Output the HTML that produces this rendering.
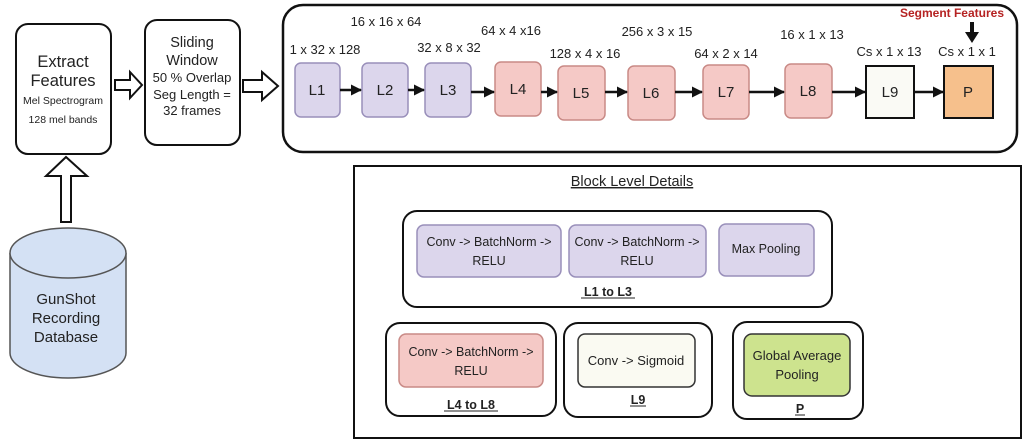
<!DOCTYPE html>
<html><head><meta charset="utf-8"><style>
html,body{margin:0;padding:0;background:#fff;}
svg{display:block;}
text{font-family:"Liberation Sans",Arial,sans-serif;fill:#222;}
</style></head><body>
<svg width="1027" height="448" viewBox="0 0 1027 448" xmlns="http://www.w3.org/2000/svg">
<defs>
<marker id="ah" markerWidth="11" markerHeight="11" refX="10" refY="5.5" orient="auto" markerUnits="userSpaceOnUse"><path d="M0,0 L11,5.5 L0,11 z" fill="#111"/></marker>
</defs>
<!-- Extract features -->
<rect x="16" y="24" width="95" height="130" rx="12" fill="#fff" stroke="#111" stroke-width="2"/>
<text x="63" y="67" font-size="16.5" text-anchor="middle">Extract</text>
<text x="63" y="86" font-size="16.5" text-anchor="middle">Features</text>
<text x="63" y="104" font-size="10.5" text-anchor="middle">Mel Spectrogram</text>
<text x="63" y="123" font-size="10.5" text-anchor="middle">128 mel bands</text>
<!-- Sliding window -->
<rect x="145" y="20" width="95" height="125" rx="12" fill="#fff" stroke="#111" stroke-width="2"/>
<text x="192" y="47" font-size="14.5" text-anchor="middle">Sliding</text>
<text x="192" y="65" font-size="14.5" text-anchor="middle">Window</text>
<text x="192" y="82" font-size="13" text-anchor="middle">50 % Overlap</text>
<text x="192" y="99" font-size="13" text-anchor="middle">Seg Length =</text>
<text x="192" y="115" font-size="13" text-anchor="middle">32 frames</text>
<!-- hollow arrows -->
<path d="M115,80 L130,80 L130,72 L142,85 L130,98 L130,90 L115,90 z" fill="#fff" stroke="#111" stroke-width="2"/>
<path d="M243,80 L262,80 L262,72 L278,86 L262,100 L262,92 L243,92 z" fill="#fff" stroke="#111" stroke-width="2"/>
<path d="M61,222 L61,176 L46,176 L66,157 L87,176 L71,176 L71,222 z" fill="#fff" stroke="#111" stroke-width="2"/>
<!-- cylinder -->
<path d="M10,253 L10,353 A58,25 0 0 0 126,353 L126,253" fill="#d4e1f4" stroke="#555" stroke-width="1.5"/>
<ellipse cx="68" cy="253" rx="58" ry="25" fill="#d4e1f4" stroke="#555" stroke-width="1.5"/>
<text x="66" y="304" font-size="15" text-anchor="middle">GunShot</text>
<text x="66" y="323" font-size="15" text-anchor="middle">Recording</text>
<text x="66" y="342" font-size="15" text-anchor="middle">Database</text>
<!-- main box -->
<rect x="283" y="5" width="734" height="147" rx="20" fill="#fff" stroke="#111" stroke-width="2.5"/>
<g stroke-width="1.5">
<rect x="295" y="63" width="45" height="54" rx="6" fill="#dcd6ec" stroke="#998fba"/>
<rect x="362" y="63" width="46" height="54" rx="6" fill="#dcd6ec" stroke="#998fba"/>
<rect x="425" y="63" width="46" height="54" rx="6" fill="#dcd6ec" stroke="#998fba"/>
<rect x="495" y="62" width="46" height="54" rx="6" fill="#f5c9c6" stroke="#c98a86"/>
<rect x="558" y="66" width="47" height="54" rx="6" fill="#f5c9c6" stroke="#c98a86"/>
<rect x="628" y="66" width="47" height="54" rx="6" fill="#f5c9c6" stroke="#c98a86"/>
<rect x="703" y="65" width="46" height="54" rx="6" fill="#f5c9c6" stroke="#c98a86"/>
<rect x="785" y="64" width="47" height="54" rx="6" fill="#f5c9c6" stroke="#c98a86"/>
<rect x="866" y="66" width="48" height="52" fill="#fafaf5" stroke="#111" stroke-width="2"/>
<rect x="944" y="66" width="49" height="52" fill="#f6c08c" stroke="#111" stroke-width="2"/>
</g>
<g font-size="15" text-anchor="middle">
<text x="317" y="95">L1</text><text x="385" y="95">L2</text><text x="448" y="95">L3</text>
<text x="518" y="94">L4</text><text x="581" y="98">L5</text><text x="651" y="98">L6</text>
<text x="726" y="97">L7</text><text x="808" y="96">L8</text><text x="890" y="97">L9</text>
<text x="968" y="97">P</text>
</g>
<g stroke="#111" stroke-width="2.5" marker-end="url(#ah)">
<line x1="340" y1="90" x2="361" y2="90"/>
<line x1="408" y1="90" x2="424" y2="90"/>
<line x1="471" y1="92" x2="494" y2="92"/>
<line x1="541" y1="92" x2="557" y2="92"/>
<line x1="605" y1="92" x2="627" y2="92"/>
<line x1="675" y1="92" x2="702" y2="92"/>
<line x1="749" y1="92" x2="784" y2="92"/>
<line x1="832" y1="92" x2="865" y2="92"/>
<line x1="914" y1="92" x2="943" y2="92"/>
</g>
<line x1="972" y1="22" x2="972" y2="34" stroke="#111" stroke-width="4"/>
<path d="M965,32 L979,32 L972,43 z" fill="#111"/>
<g font-size="13" text-anchor="middle">
<text x="325" y="54">1 x 32 x 128</text>
<text x="386" y="26">16 x 16 x 64</text>
<text x="449" y="52">32 x 8 x 32</text>
<text x="511" y="35">64 x 4 x16</text>
<text x="585" y="58">128 x 4 x 16</text>
<text x="657" y="36">256 x 3 x 15</text>
<text x="726" y="58">64 x 2 x 14</text>
<text x="812" y="39">16 x 1 x 13</text>
<text x="889" y="56">Cs x 1 x 13</text>
<text x="967" y="56">Cs x 1 x 1</text>
</g>
<text x="952" y="17" font-size="12" font-weight="bold" text-anchor="middle" style="fill:#b52222">Segment Features</text>
<!-- bottom box -->
<rect x="354" y="166" width="667" height="272" fill="#fff" stroke="#111" stroke-width="2"/>
<text x="632" y="186" font-size="14.5" text-anchor="middle" text-decoration="underline">Block Level Details</text>
<rect x="403" y="211" width="429" height="96" rx="14" fill="#fff" stroke="#111" stroke-width="2"/>
<rect x="417" y="225" width="144" height="52" rx="7" fill="#dcd6ec" stroke="#998fba" stroke-width="1.5"/>
<rect x="569" y="225" width="137" height="52" rx="7" fill="#dcd6ec" stroke="#998fba" stroke-width="1.5"/>
<rect x="719" y="224" width="95" height="52" rx="7" fill="#dcd6ec" stroke="#998fba" stroke-width="1.5"/>
<g font-size="12.5" text-anchor="middle">
<text x="489" y="246">Conv -&gt; BatchNorm -&gt;</text><text x="489" y="265">RELU</text>
<text x="637" y="246">Conv -&gt; BatchNorm -&gt;</text><text x="637" y="265">RELU</text>
<text x="766" y="253">Max Pooling</text>
</g>
<text x="608" y="296" font-size="12.5" font-weight="bold" text-anchor="middle">L1 to L3</text>
<line x1="581" y1="298" x2="635" y2="298" stroke="#222"/>
<rect x="386" y="323" width="170" height="93" rx="14" fill="#fff" stroke="#111" stroke-width="2"/>
<rect x="399" y="334" width="144" height="53" rx="7" fill="#f5c9c6" stroke="#c98a86" stroke-width="1.5"/>
<text x="471" y="356" font-size="12.5" text-anchor="middle">Conv -&gt; BatchNorm -&gt;</text>
<text x="471" y="375" font-size="12.5" text-anchor="middle">RELU</text>
<text x="471" y="409" font-size="12.5" font-weight="bold" text-anchor="middle">L4 to L8</text>
<line x1="444" y1="411" x2="498" y2="411" stroke="#222"/>
<rect x="564" y="323" width="148" height="94" rx="14" fill="#fff" stroke="#111" stroke-width="2"/>
<rect x="578" y="334" width="117" height="53" rx="7" fill="#fafaf2" stroke="#333" stroke-width="1.5"/>
<text x="636" y="365" font-size="13" text-anchor="middle">Conv -&gt; Sigmoid</text>
<text x="638" y="404" font-size="12.5" font-weight="bold" text-anchor="middle">L9</text>
<line x1="630" y1="406" x2="646" y2="406" stroke="#222"/>
<rect x="733" y="322" width="130" height="97" rx="14" fill="#fff" stroke="#111" stroke-width="2"/>
<rect x="744" y="334" width="106" height="62" rx="8" fill="#cde38e" stroke="#333" stroke-width="1.5"/>
<text x="797" y="360" font-size="13" text-anchor="middle">Global Average</text>
<text x="797" y="379" font-size="13" text-anchor="middle">Pooling</text>
<text x="800" y="413" font-size="12.5" font-weight="bold" text-anchor="middle">P</text>
<line x1="795" y1="415" x2="805" y2="415" stroke="#222"/>
</svg>
</body></html>
